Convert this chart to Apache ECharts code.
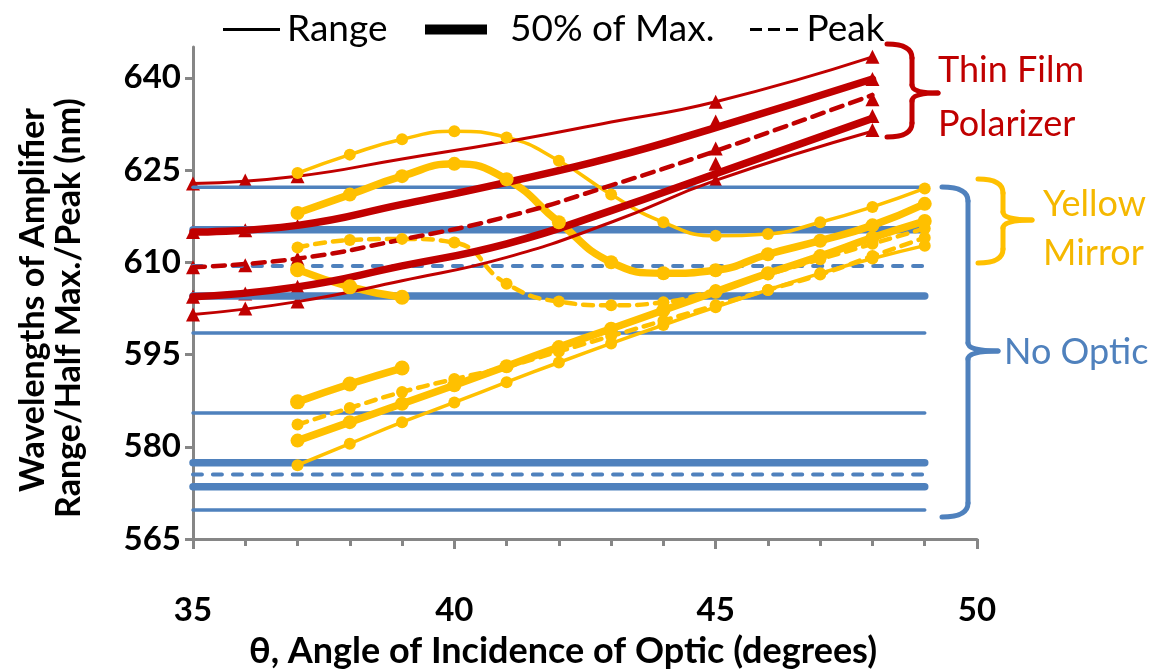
<!DOCTYPE html>
<html>
<head>
<meta charset="utf-8">
<script src="https://cdn.jsdelivr.net/npm/echarts@6/dist/echarts.min.js"></script>
<style>
html, body { margin: 0; padding: 0; background: #fff; }
#chart { width: 1163px; height: 671px; }
</style>
</head>
<body>
<div id="chart"></div>
<script>
// angle of incidence (degrees)
const redX = [35, 36, 37, 45, 48];
const redTrendX = [35, 37, 39, 41, 43, 45, 48];
const yellowX = [37, 38, 39, 40, 41, 42, 43, 44, 45, 46, 47, 48, 49];
const yellowShortX = [37, 38, 39];
const blueX = [35, 49];
const xLabels = [35, 40, 45, 50];
const yTicks = [565, 580, 595, 610, 625, 640];

// Thin Film Polarizer (nm): measured points
const tfpRangeHigh = [622.8, 623.3, 624.0, 636.1, 643.4];
const tfpHalfHigh = [614.9, 615.2, 615.9, 632.9, 639.8];
const tfpPeak = [609.2, 609.5, 610.6, 628.5, 636.5];
const tfpHalfLow = [604.4, 604.9, 606.0, 626.0, 633.8];
const tfpRangeLow = [601.5, 602.5, 603.6, 623.3, 631.5];

// Thin Film Polarizer (nm): fitted curves
const tfpRangeHighFit = [622.8, 624.0, 626.8, 629.6, 632.8, 636.1, 643.4];
const tfpHalfHighFit = [614.9, 616.0, 619.4, 623.0, 627.0, 631.9, 639.8];
const tfpPeakFit = [609.2, 610.6, 613.7, 617.4, 622.5, 628.1, 637.2];
const tfpHalfLowFit = [604.4, 606.0, 609.4, 613.0, 618.4, 624.4, 633.4];
const tfpRangeLowFit = [601.5, 603.6, 607.0, 610.8, 616.5, 623.3, 631.3];

// Yellow Mirror (nm)
const ymRangeHigh = [624.5, 627.5, 630, 631.3, 630.3, 626.5, 621, 616.5, 614.3, 614.6, 616.5, 619, 622];
const ymHalfHigh = [618, 621, 624, 626, 623.5, 616.5, 610, 608.2, 608.7, 611.3, 613.5, 616, 619.5];
const ymPeakHigh = [612.4, 613.6, 613.8, 613.2, 606.5, 603.6, 603, 603.5, 605.5, 608, 610.5, 613, 615.5];
const ymHalfHighShort = [608.8, 606, 604.3];
const ymHalfLowShort = [587.3, 590.2, 592.8];
const ymPeakLow = [583.6, 586.3, 588.9, 591, 593, 595.5, 598, 600.5, 603, 605.5, 608, 611, 614];
const ymHalfLow = [581, 584, 587, 590, 593.1, 596.2, 599.2, 602.2, 605.2, 608.2, 611, 614, 616.7];
const ymRangeLow = [577, 580.5, 584, 587.2, 590.5, 593.7, 596.8, 599.8, 602.7, 605.5, 608.2, 610.6, 612.7];

// No Optic (nm), flat over all angles
const noRange = [622.2, 598.5, 585.5, 569.7];
const noHalf = [615.3, 604.5, 577.4, 573.5];
const noPeak = [609.4, 575.5];

const RED = '#C00000', YEL = '#FFC000', BLUE = '#4F81BD', GRAY = '#868686';
const FONT = 'Lato';

function mk(name, xs, ys, color, width, dash, symbol, size) {
    return {
        name: name,
        type: 'line',
        data: xs.map((x, i) => [x, ys[i]]),
        smooth: true,
        symbol: symbol || 'none',
        symbolSize: size || 0,
        showSymbol: !!symbol,
        lineStyle: {color: color, width: width, type: dash || 'solid', cap: 'round'},
        itemStyle: {color: color},
        silent: true
    };
}

function pts(name, xs, ys, color, size) {
    return {
        name: name, type: 'scatter', symbol: 'triangle', symbolSize: size,
        data: xs.map((x, i) => [x, ys[i]]),
        itemStyle: {color: color, opacity: 1}, silent: true
    };
}

const series = [];
noRange.forEach((v, i) => series.push(mk('noRange' + i, blueX, blueX.map(() => v), BLUE, 3.5)));
noHalf.forEach((v, i) => series.push(mk('noHalf' + i, blueX, blueX.map(() => v), BLUE, 7.5)));
noPeak.forEach((v, i) => series.push(mk('noPeak' + i, blueX, blueX.map(() => v), BLUE, 4, [9, 11])));

series.push(mk('ymRangeHigh', yellowX, ymRangeHigh, YEL, 3.5, null, 'circle', 12));
series.push(mk('ymHalfHigh', yellowX, ymHalfHigh, YEL, 7.5, null, 'circle', 14));
series.push(mk('ymPeakHigh', yellowX, ymPeakHigh, YEL, 4.5, [10, 8], 'circle', 12));
series.push(mk('ymHalfHighShort', yellowShortX, ymHalfHighShort, YEL, 7.5, null, 'circle', 15));
series.push(mk('ymHalfLowShort', yellowShortX, ymHalfLowShort, YEL, 7.5, null, 'circle', 15));
series.push(mk('ymPeakLow', yellowX, ymPeakLow, YEL, 4.5, [10, 8], 'circle', 12));
series.push(mk('ymHalfLow', yellowX, ymHalfLow, YEL, 7.5, null, 'circle', 14));
series.push(mk('ymRangeLow', yellowX, ymRangeLow, YEL, 3.5, null, 'circle', 12));

series.push(mk('tfpRangeHighFit', redTrendX, tfpRangeHighFit, RED, 3));
series.push(mk('tfpHalfHighFit', redTrendX, tfpHalfHighFit, RED, 7.5));
series.push(mk('tfpPeakFit', redTrendX, tfpPeakFit, RED, 4.5, [12, 8]));
series.push(mk('tfpHalfLowFit', redTrendX, tfpHalfLowFit, RED, 7.5));
series.push(mk('tfpRangeLowFit', redTrendX, tfpRangeLowFit, RED, 3));
series.push(pts('tfpRangeHigh', redX, tfpRangeHigh, RED, 14));
series.push(pts('tfpHalfHigh', redX, tfpHalfHigh, RED, 14));
series.push(pts('tfpPeak', redX, tfpPeak, RED, 14));
series.push(pts('tfpHalfLow', redX, tfpHalfLow, RED, 14));
series.push(pts('tfpRangeLow', redX, tfpRangeLow, RED, 14));

// legend-only entries
series.push({name: 'Range', type: 'line', data: [], itemStyle: {color: '#000'}});
series.push({name: '50% of Max.', type: 'line', data: [], itemStyle: {color: '#000'}});
series.push({name: 'Peak', type: 'line', data: [], itemStyle: {color: '#000'}});

function legendAt(name, icon, left, w, h, pad) {
    return {
        data: [{name: name, icon: icon}], left: left, top: 6, itemWidth: w, itemHeight: h,
        selectedMode: false,
        textStyle: {color: '#000', fontSize: 37, fontFamily: FONT, padding: [0, 0, 0, pad || 0]}
    };
}

function txt(text, x, y, color, size, weight, align, rot) {
    return {
        type: 'text', x: x, y: y, rotation: rot || 0, silent: true,
        style: {
            text: text, fill: color, align: align || 'left', verticalAlign: 'middle',
            font: (weight || 'normal') + ' ' + size + 'px ' + FONT
        }
    };
}

// curly brace built from curves and lines
function brace(xL, xM, xT, yTop, yMid, yBot, color) {
    const st = {stroke: color, lineWidth: 5, fill: null, lineCap: 'round'};
    const r = 14, r2 = 8;
    return {
        type: 'group', silent: true,
        children: [
            {type: 'bezierCurve', shape: {x1: xL, y1: yTop, x2: xM, y2: yTop + r, cpx1: xM, cpy1: yTop}, style: st},
            {type: 'line', shape: {x1: xM, y1: yTop + r, x2: xM, y2: yMid - r2}, style: st},
            {type: 'bezierCurve', shape: {x1: xM, y1: yMid - r2, x2: xT, y2: yMid, cpx1: xM, cpy1: yMid}, style: st},
            {type: 'bezierCurve', shape: {x1: xT, y1: yMid, x2: xM, y2: yMid + r2, cpx1: xM, cpy1: yMid}, style: st},
            {type: 'line', shape: {x1: xM, y1: yMid + r2, x2: xM, y2: yBot - r}, style: st},
            {type: 'bezierCurve', shape: {x1: xM, y1: yBot - r, x2: xL, y2: yBot, cpx1: xM, cpy1: yBot}, style: st}
        ]
    };
}

const dashIcon = 'path://M0,0h12v3h-12z M18,0h12v3h-12z M36,0h12v3h-12z';

const chart = echarts.init(document.getElementById('chart'));
chart.setOption({
    animation: false,
    backgroundColor: '#fff',
    grid: {left: 193, right: 186, top: 47, bottom: 132},
    legend: [
        legendAt('Range', 'rect', 218, 57, 3, 2),
        legendAt('50% of Max.', 'rect', 420, 62, 10, 18),
        legendAt('Peak', dashIcon, 745, 55, 3, 0)
    ],
    xAxis: {
        type: 'value', min: 35, max: 50, interval: 5,
        axisLine: {lineStyle: {color: GRAY, width: 3}},
        axisTick: {length: 10, lineStyle: {color: GRAY, width: 3}},
        minorTick: {show: true, splitNumber: 5, length: 7, lineStyle: {color: GRAY, width: 3}},
        splitLine: {show: false},
        axisLabel: {customValues: xLabels, color: '#000', fontSize: 33, fontWeight: 'bold', fontFamily: FONT, margin: 55}
    },
    yAxis: {
        type: 'value', min: 565, max: 645, interval: 15,
        axisLine: {show: true, lineStyle: {color: GRAY, width: 3}},
        axisTick: {show: true, customValues: yTicks, length: 8, lineStyle: {color: GRAY, width: 3}},
        splitLine: {show: false},
        axisLabel: {customValues: yTicks, color: '#000', fontSize: 33, fontWeight: 'bold', fontFamily: FONT, margin: 12}
    },
    graphic: [
        txt('θ, Angle of Incidence of Optic (degrees)', 563, 651, '#000', 36, 'bold', 'center'),
        txt('Wavelengths of Amplifier', 33, 300, '#000', 34, 'bold', 'center', Math.PI / 2),
        txt('Range/Half Max./Peak (nm)', 69, 308, '#000', 34, 'bold', 'center', Math.PI / 2),
        brace(887, 912, 938, 44, 93, 137, RED),
        brace(978, 1003, 1032, 179, 220, 263, YEL),
        brace(942, 968, 998, 187, 351, 517, BLUE),
        txt('Thin Film', 938, 70, RED, 36),
        txt('Polarizer', 938, 124, RED, 36),
        txt('Yellow', 1043, 204, '#F5B800', 36),
        txt('Mirror', 1043, 253, '#F5B800', 36),
        txt('No Optic', 1004, 352, BLUE, 36)
    ],
    series: series
});
</script>
</body>
</html>
